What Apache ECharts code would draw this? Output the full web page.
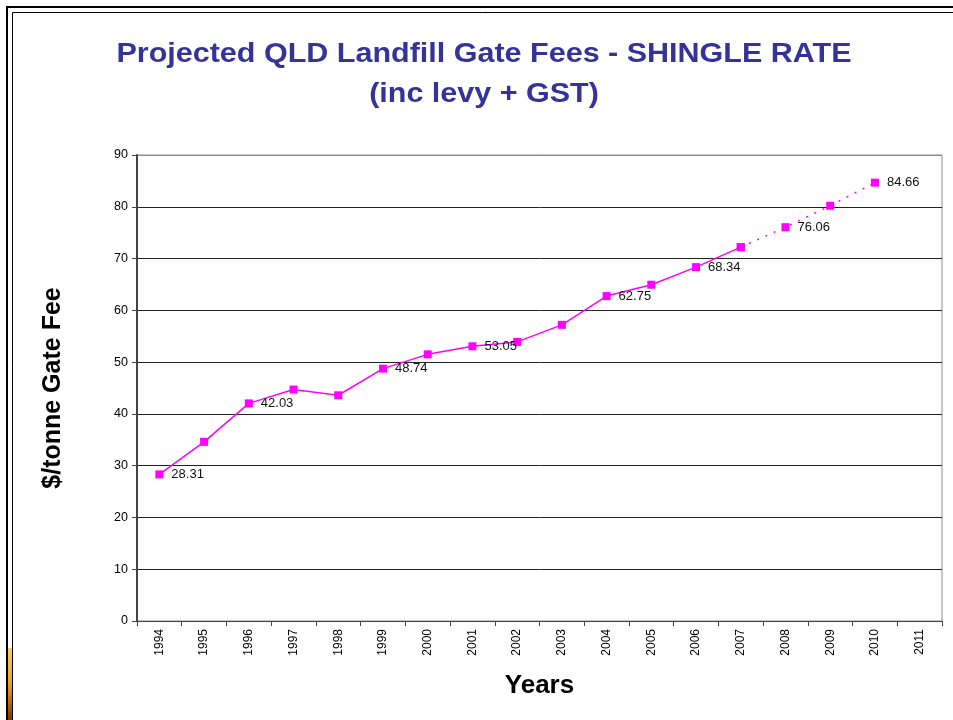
<!DOCTYPE html>
<html>
<head>
<meta charset="utf-8">
<script src="https://cdn.jsdelivr.net/npm/echarts@6/dist/echarts.min.js"></script>
<style>
  html, body { margin: 0; padding: 0; background: #fff; }
  #chart { width: 953px; height: 720px; }
</style>
</head>
<body>
<div id="chart"></div>
<script>
// Years along the category axis
const years = ['1994','1995','1996','1997','1998','1999','2000','2001','2002','2003',
               '2004','2005','2006','2007','2008','2009','2010','2011'];
// Actual gate fees ($/tonne), 1994–2007
const actualFees = [28.31, 34.6, 42.03, 44.7, 43.6, 48.74, 51.5, 53.05, 53.9, 57.2,
                    62.75, 64.95, 68.34, 72.2, null, null, null, null];
// Projected gate fees ($/tonne), 2007–2010
const projectedFees = [null, null, null, null, null, null, null, null, null, null,
                       null, null, null, 72.2, 76.06, 80.2, 84.66, null];
// Years whose value is printed next to the marker
const labelledYears = ['1994','1996','1999','2001','2004','2006','2008','2010'];
// Title lines
const titleLines = ['Projected QLD Landfill Gate Fees - SHINGLE RATE', '(inc levy + GST)'];

const chart = echarts.init(document.getElementById('chart'));
const magenta = '#FF00FF';
const font = 'Liberation Sans, Arial, sans-serif';

function labelFor(p) {
  return labelledYears.includes(years[p.dataIndex]) ? p.value.toFixed(2) : '';
}

const labelCfg = {
  show: true,
  position: 'right',
  distance: 8,
  formatter: labelFor,
  color: '#111',
  fontFamily: font,
  fontSize: 13
};

// Grid lines: the top one doubles as the light plot frame
const splitColors = ['#222','#222','#222','#222','#222','#222','#222','#222','#222','#8c8c8c'];

// Wide bold title, drawn as text elements stretched horizontally
const titleGraphics = titleLines.map((t, i) => ({
  type: 'text',
  x: 484, y: 55 + i * 40,
  scaleX: 1.13,
  style: {
    text: t,
    fill: '#333399',
    font: 'bold 27px ' + font,
    textAlign: 'center',
    textVerticalAlign: 'middle'
  },
  silent: true
}));

chart.setOption({
  animation: false,
  backgroundColor: '#fff',
  grid: {
    left: 137, right: 11, top: 155, bottom: 99,
    show: true,
    borderColor: '#8c8c8c',
    borderWidth: 1,
    backgroundColor: '#fff'
  },
  xAxis: {
    type: 'category',
    data: years,
    boundaryGap: true,
    name: 'Years',
    nameLocation: 'middle',
    nameGap: 52,
    nameTextStyle: {
      fontFamily: font,
      fontWeight: 'bold', fontSize: 26, color: '#000'
    },
    axisLine: { lineStyle: { color: '#444', width: 1 } },
    axisTick: { show: true, length: 5, alignWithLabel: false, lineStyle: { color: '#444' } },
    axisLabel: {
      rotate: 90,
      margin: 8,
      color: '#000',
      fontFamily: font,
      fontSize: 12
    },
    splitLine: { show: false }
  },
  yAxis: {
    type: 'value',
    min: 0, max: 90, interval: 10,
    name: '$/tonne Gate Fee',
    nameLocation: 'middle',
    nameGap: 71,
    nameTextStyle: {
      fontFamily: font,
      fontWeight: 'bold', fontSize: 25, color: '#000'
    },
    axisLine: { show: true, lineStyle: { color: '#444', width: 2 } },
    axisTick: { show: true, length: 5, lineStyle: { color: '#444' } },
    axisLabel: {
      margin: 9,
      color: '#000',
      fontFamily: font,
      fontSize: 12.5
    },
    splitLine: { show: true, lineStyle: { color: splitColors, width: 1 } }
  },
  series: [
    {
      name: 'Actual',
      type: 'line',
      data: actualFees,
      symbol: 'rect',
      symbolSize: 8,
      itemStyle: { color: magenta },
      lineStyle: { color: magenta, width: 1.5 },
      label: labelCfg,
      z: 3
    },
    {
      name: 'Projected',
      type: 'line',
      data: projectedFees,
      symbol: 'rect',
      symbolSize: 8,
      itemStyle: { color: magenta },
      lineStyle: { color: magenta, width: 1.5, type: [2, 7] },
      label: labelCfg,
      z: 3
    }
  ],
  graphic: titleGraphics.concat([
    // Slide frame: double rule along the top and left edges
    { type: 'polyline', shape: { points: [[7, 720], [7, 7], [953, 7]] },
      style: { stroke: '#000', lineWidth: 2, fill: null }, silent: true },
    { type: 'polyline', shape: { points: [[12.5, 720], [12.5, 12.5], [953, 12.5]] },
      style: { stroke: '#000', lineWidth: 1, fill: null }, silent: true },
    // Warm accent strip at the bottom-left edge
    { type: 'rect', shape: { x: 8, y: 648, width: 4, height: 72 },
      style: {
        fill: new echarts.graphic.LinearGradient(0, 0, 0, 1, [
          { offset: 0, color: '#f7d070' },
          { offset: 0.5, color: '#f0a020' },
          { offset: 1, color: '#803010' }
        ])
      }, silent: true }
  ])
});
</script>
</body>
</html>
